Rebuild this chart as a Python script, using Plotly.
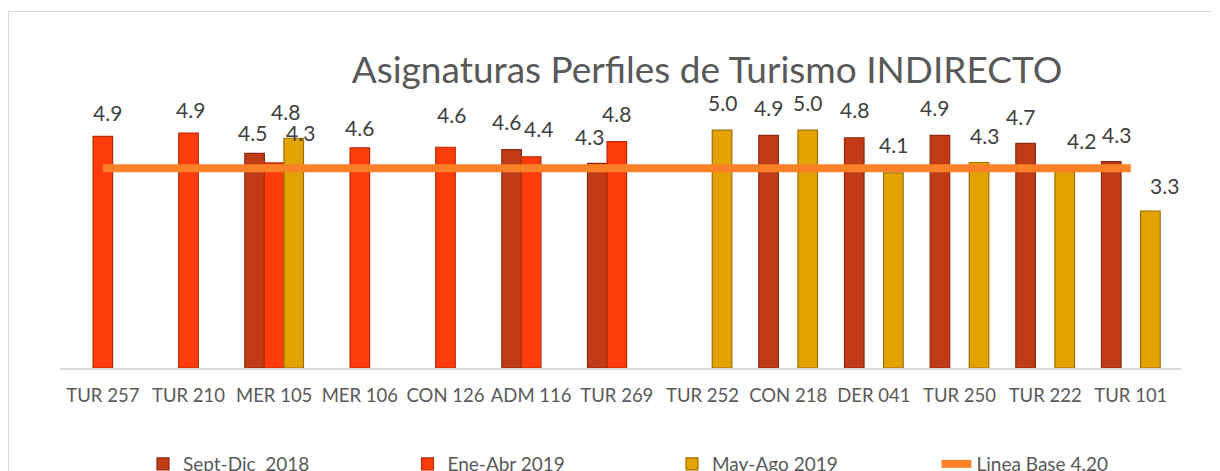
import plotly.graph_objects as go

categories = ["TUR 257", "TUR 210", "MER 105", "MER 106", "CON 126", "ADM 116", "TUR 269",
              "TUR 252", "CON 218", "DER 041", "TUR 250", "TUR 222", "TUR 101"]
sept_dic_2018 = [None, None, 4.51, None, None, 4.59, 4.30, None, 4.89, 4.84, 4.89, 4.72, 4.34]
ene_abr_2019 = [4.87, 4.94, 4.31, 4.63, 4.64, 4.44, 4.76, None, None, None, None, None, None]
may_ago_2019 = [None, None, 4.83, None, None, None, None, 5.00, 5.00, 4.10, 4.32, 4.20, 3.30]
linea_base = 4.20

series = [
    ("Sept-Dic  2018", sept_dic_2018, "#C23B17", "#8E2A0F"),
    ("Ene-Abr 2019", ene_abr_2019, "#FF3D0C", "#B82A06"),
    ("May-Ago 2019", may_ago_2019, "#E3A302", "#9C7000"),
]

# page has an 8px body margin: figure pixel = page pixel - 8
OFF = 8
W, H = 1220 - OFF, 471 - OFF
PLOT_L, PLOT_R, PLOT_T, PLOT_B = 60 - OFF, 1181 - OFF, 35 - OFF, 368 - OFF
ML, MR, MT, MB = PLOT_L, W - PLOT_R, PLOT_T, H - PLOT_B
YMAX = 7.0
BARGAP = 0.315
plot_w = PLOT_R - PLOT_L
plot_h = PLOT_B - PLOT_T
cat_w = plot_w / len(categories)
bar_w = cat_w * (1 - BARGAP) / 3


def px_x(page_x):
    return (page_x - OFF - PLOT_L) / plot_w


def px_y(page_y):
    return (PLOT_B - (page_y - OFF)) / plot_h


# label nudges (px) for data labels: (series index, category) -> (dx, dy)
label_nudge = {
    (1, "TUR 257"): (5, -4), (1, "TUR 210"): (2, -4),
    (0, "MER 105"): (-2, -7), (1, "MER 105"): (26, 2), (2, "MER 105"): (-8, -1),
    (1, "MER 106"): (0, -8), (1, "CON 126"): (6, 5),
    (0, "ADM 116"): (-5, 0), (1, "ADM 116"): (7, 0),
    (0, "TUR 269"): (-8, -1),
    (0, "TUR 250"): (-5, 0), (2, "TUR 250"): (5, -1),
    (0, "TUR 222"): (-5, -1), (2, "TUR 222"): (17, 0),
    (0, "TUR 101"): (5, -1), (2, "TUR 101"): (14, -2),
}

fig = go.Figure()
annotations = []
for i, (name, vals, col, edge) in enumerate(series):
    fig.add_trace(go.Bar(
        x=categories, y=vals, name=name,
        marker=dict(color=col, line=dict(color=edge, width=1.2)),
        cliponaxis=False,
    ))
    for c, v in zip(categories, vals):
        if v is None:
            continue
        dx, dy = label_nudge.get((i, c), (0, 0))
        annotations.append(dict(
            x=c, y=v, xref="x", yref="y", text=f"{v:.1f}", showarrow=False,
            xanchor="center", yanchor="middle",
            xshift=(i - 1) * bar_w + dx, yshift=28 + dy,
            font=dict(family="Lato", size=21, color="#404040"),
        ))

fig.add_trace(go.Scatter(
    x=categories, y=[linea_base] * len(categories), name="Linea Base 4.20",
    mode="lines", line=dict(color="#FB8128", width=8),
))

fig.update_layout(
    width=W, height=H,
    margin=dict(l=ML, r=MR, t=MT, b=MB, autoexpand=False),
    paper_bgcolor="white", plot_bgcolor="white",
    barmode="group", bargap=BARGAP, bargroupgap=0,
    title=dict(text="Asignaturas Perfiles de Turismo INDIRECTO",
               font=dict(family="Lato", size=37, color="#595959"),
               x=(707 - OFF) / W, xanchor="center", xref="container",
               y=1 - (70 - OFF) / H, yanchor="middle", yref="container"),
    xaxis=dict(showline=True, linecolor="#D9D9D9", linewidth=2, ticks="",
               showgrid=False, tickfont=dict(family="Lato", size=18.5, color="#595959"),
               ticklabelstandoff=10),
    yaxis=dict(range=[0, YMAX], visible=False, showgrid=False),
    legend=dict(orientation="h", x=px_x(143), xanchor="left",
                y=px_y(445), yanchor="top",
                entrywidth=219.5, entrywidthmode="pixels",
                font=dict(family="Lato", size=19, color="#595959"),
                bgcolor="rgba(0,0,0,0)"),
    annotations=annotations,
    shapes=[dict(type="rect", xref="paper", yref="paper",
                 x0=px_x(8.5), x1=px_x(1240),
                 y0=px_y(495), y1=px_y(11.5),
                 line=dict(color="#D9D9D9", width=1), fillcolor="rgba(0,0,0,0)",
                 layer="below")],
    showlegend=True,
)

fig.write_html("out.html")
